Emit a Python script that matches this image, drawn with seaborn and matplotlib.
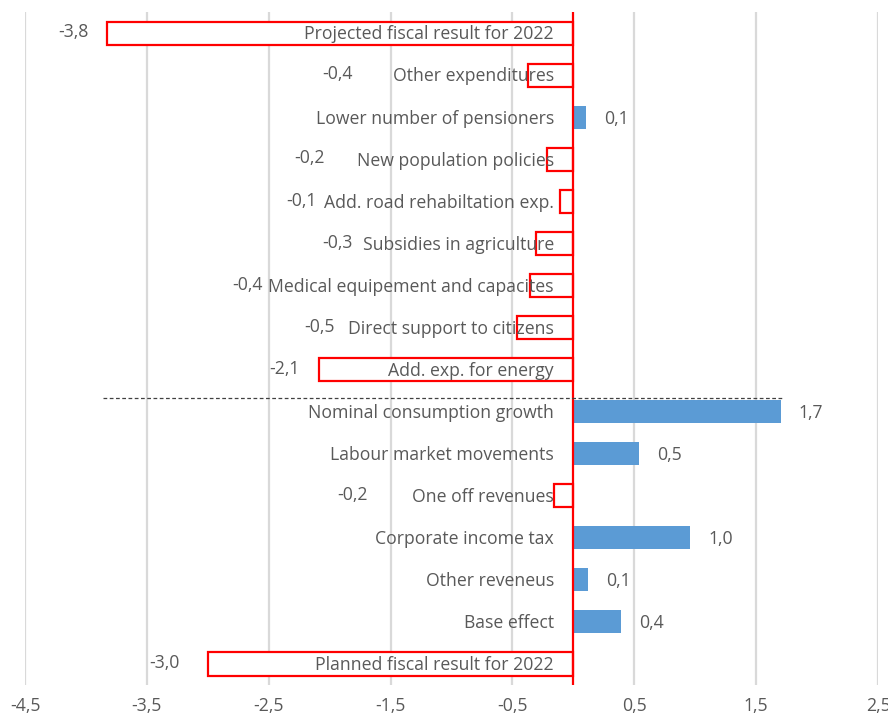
import matplotlib
matplotlib.use('Agg')
import matplotlib.pyplot as plt
import seaborn as sns
import pandas as pd
import numpy as np

categories = [
    'Projected fiscal result for 2022',
    'Other expenditures',
    'Lower number of pensioners',
    'New population policies',
    'Add. road rehabiltation exp.',
    'Subsidies in agriculture',
    'Medical equipement and capacites',
    'Direct support to citizens',
    'Add. exp. for energy',
    'Nominal consumption growth',
    'Labour market movements',
    'One off revenues',
    'Corporate income tax',
    'Other reveneus',
    'Base effect',
    'Planned fiscal result for 2022',
]
values = [-3.83, -0.37, 0.10, -0.22, -0.11, -0.31, -0.36, -0.46,
          -2.09, 1.70, 0.54, -0.16, 0.96, 0.12, 0.39, -3.00]
value_labels = ['-3,8', '-0,4', '0,1', '-0,2', '-0,1', '-0,3', '-0,4', '-0,5',
                '-2,1', '1,7', '0,5', '-0,2', '1,0', '0,1', '0,4', '-3,0']
x_ticks = [-4.5, -3.5, -2.5, -1.5, -0.5, 0.5, 1.5, 2.5]

# hand placement of the negative value labels (right edge, data units)
neg_label_right = {0: -3.98, 1: -1.81, 3: -2.04, 4: -2.11, 5: -1.81, 6: -2.55,
                   7: -1.96, 8: -2.25, 11: -1.69, 15: -3.23}

grey = '#595959'
red = '#FF0000'
blue = '#5B9BD5'

sns.set_theme(style='white')
plt.rcParams['font.family'] = ['Open Sans', 'DejaVu Sans']
fs = 12.7

df = pd.DataFrame({'category': categories, 'value': values})

fig = plt.figure(figsize=(8.88, 7.15), dpi=100)
ax = fig.add_axes([0.0282, 0.042, 0.9606, 0.941])

sns.barplot(data=df, y='category', x='value', orient='h', ax=ax,
            color=blue, width=0.55, saturation=1)

for patch, v in zip(ax.patches, values):
    if v < 0:
        patch.set_facecolor('white')
        patch.set_edgecolor(red)
        patch.set_linewidth(1.6)
    else:
        patch.set_facecolor(blue)
        patch.set_edgecolor('none')
    patch.set_zorder(3)

ax.set_xlim(-4.5, 2.5)
ax.set_ylim(15.5, -0.5)
for t in x_ticks:
    ax.axvline(t, color='#D9D9D9', lw=1.6, zorder=0)
ax.axvline(0, color=red, lw=1.6, zorder=4)

# separator between expenditures and revenues
ax.plot([-3.86, 1.73], [8.68, 8.68], color='#404040', lw=0.9, ls=(0, (3, 2)), zorder=5)

for i, (cat, v, lab) in enumerate(zip(categories, values, value_labels)):
    ax.text(-0.16, i + 0.03, cat, ha='right', va='center', fontsize=fs, color=grey, zorder=6)
    if v > 0:
        ax.text(v + 0.15, i + 0.03, lab, ha='left', va='center', fontsize=fs, color=grey)
    else:
        ax.text(neg_label_right[i], i - 0.02, lab, ha='right', va='center',
                fontsize=fs, color=grey)

ax.set_xticks(x_ticks)
ax.set_xticklabels([f'{t:.1f}'.replace('.', ',') for t in x_ticks], fontsize=fs, color=grey)
ax.tick_params(axis='x', length=0, pad=9)
ax.set_yticks([])
ax.set_xlabel('')
ax.set_ylabel('')
for s in ax.spines.values():
    s.set_visible(False)

fig.savefig('out.png', dpi=100)
